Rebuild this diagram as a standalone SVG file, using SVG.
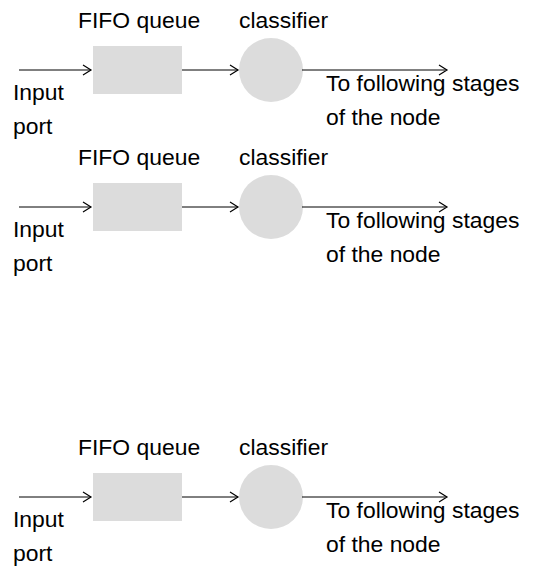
<svg xmlns="http://www.w3.org/2000/svg" width="538" height="576" viewBox="0 0 538 576">
<style>
text{font-family:"Liberation Sans",Arial,sans-serif;font-size:22.9px;fill:#000}
.box{fill:#dcdcdc}
.conn{stroke:#000;stroke-width:1;fill:none}
.ah{stroke:#000;stroke-width:1.2;fill:none}
</style>
<defs>
<g id="stage">
<text x="78" y="28">FIFO queue</text>
<text x="239" y="28">classifier</text>
<text x="13" y="100">Input</text>
<text x="13" y="134">port</text>
<text x="326" y="91">To following stages</text>
<text x="326" y="125">of the node</text>
</g>
</defs>
<rect width="538" height="576" fill="#fff"/>
<g id="labels1"><use href="#stage"/></g>
<g id="labels2"><use href="#stage" y="137"/></g>
<g id="labels3"><use href="#stage" y="427"/></g>
<g id="queue1"><rect class="box" x="93" y="46" width="89" height="48"/></g>
<g id="classifier1"><circle class="box" cx="271" cy="70" r="32"/></g>
<g id="queue2"><rect class="box" x="93" y="183" width="89" height="48"/></g>
<g id="classifier2"><circle class="box" cx="271" cy="207" r="32"/></g>
<g id="queue3"><rect class="box" x="93" y="473" width="89" height="48"/></g>
<g id="classifier3"><circle class="box" cx="271" cy="497" r="32"/></g>
<g id="connectors">
<path class="conn" d="M19 70H91M182 70H238M302 70H447"/>
<path class="ah" d="M83 65L91 70L83 75M230 65L238 70L230 75M439 65L447 70L439 75"/>
<path class="conn" d="M19 207H91M182 207H238M302 207H447"/>
<path class="ah" d="M83 202L91 207L83 212M230 202L238 207L230 212M439 202L447 207L439 212"/>
<path class="conn" d="M19 497H91M182 497H238M302 497H447"/>
<path class="ah" d="M83 492L91 497L83 502M230 492L238 497L230 502M439 492L447 497L439 502"/>
</g>
</svg>
